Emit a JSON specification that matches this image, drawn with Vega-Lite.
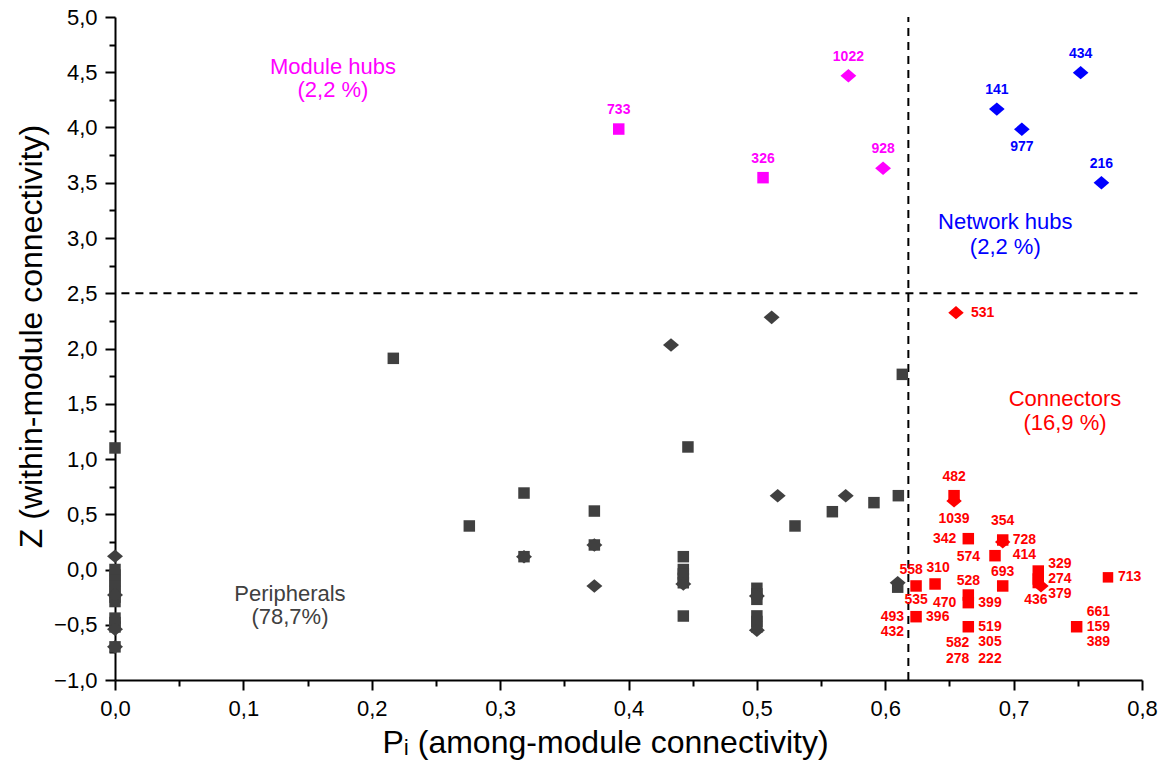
{
  "$schema": "https://vega.github.io/schema/vega-lite/v6.json",
  "width": 1027,
  "height": 663,
  "autosize": {"type": "none"},
  "padding": {"left": 115, "top": 17, "right": 18, "bottom": 84},
  "background": "white",
  "config": {
    "view": {"stroke": null},
    "font": "Liberation Sans",
    "axis": {"grid": false, "domainColor": "black", "domainWidth": 2, "tickColor": "black", "tickWidth": 2, "labelFont": "Liberation Sans", "labelColor": "black", "titleFont": "Liberation Sans", "titleFontWeight": "normal", "titleColor": "black", "labelFlush": false}
  },
  "resolve": {"scale": {"size": "independent"}},
  "datasets": {
    "points": [
      {"p": 0, "z": 1.1, "role": "Peripheral", "shape": "square"},
      {"p": 0, "z": 0.0, "role": "Peripheral", "shape": "square"},
      {"p": 0, "z": -0.05, "role": "Peripheral", "shape": "square"},
      {"p": 0, "z": -0.1, "role": "Peripheral", "shape": "square"},
      {"p": 0, "z": -0.15, "role": "Peripheral", "shape": "square"},
      {"p": 0, "z": -0.2, "role": "Peripheral", "shape": "square"},
      {"p": 0, "z": -0.25, "role": "Peripheral", "shape": "square"},
      {"p": 0, "z": -0.29, "role": "Peripheral", "shape": "square"},
      {"p": 0, "z": -0.44, "role": "Peripheral", "shape": "square"},
      {"p": 0, "z": -0.48, "role": "Peripheral", "shape": "square"},
      {"p": 0, "z": -0.52, "role": "Peripheral", "shape": "square"},
      {"p": 0, "z": -0.7, "role": "Peripheral", "shape": "square"},
      {"p": 0.2168, "z": 1.911, "role": "Peripheral", "shape": "square"},
      {"p": 0.276, "z": 0.394, "role": "Peripheral", "shape": "square"},
      {"p": 0.3186, "z": 0.692, "role": "Peripheral", "shape": "square"},
      {"p": 0.3186, "z": 0.116, "role": "Peripheral", "shape": "square"},
      {"p": 0.3734, "z": 0.529, "role": "Peripheral", "shape": "square"},
      {"p": 0.3734, "z": 0.222, "role": "Peripheral", "shape": "square"},
      {"p": 0.4427, "z": 0.116, "role": "Peripheral", "shape": "square"},
      {"p": 0.4427, "z": 0.0, "role": "Peripheral", "shape": "square"},
      {"p": 0.4427, "z": -0.04, "role": "Peripheral", "shape": "square"},
      {"p": 0.4427, "z": -0.08, "role": "Peripheral", "shape": "square"},
      {"p": 0.4427, "z": -0.12, "role": "Peripheral", "shape": "square"},
      {"p": 0.4427, "z": -0.421, "role": "Peripheral", "shape": "square"},
      {"p": 0.4463, "z": 1.109, "role": "Peripheral", "shape": "square"},
      {"p": 0.5, "z": -0.17, "role": "Peripheral", "shape": "square"},
      {"p": 0.5, "z": -0.22, "role": "Peripheral", "shape": "square"},
      {"p": 0.5, "z": -0.27, "role": "Peripheral", "shape": "square"},
      {"p": 0.5, "z": -0.42, "role": "Peripheral", "shape": "square"},
      {"p": 0.5, "z": -0.47, "role": "Peripheral", "shape": "square"},
      {"p": 0.5, "z": -0.52, "role": "Peripheral", "shape": "square"},
      {"p": 0.5297, "z": 0.394, "role": "Peripheral", "shape": "square"},
      {"p": 0.5588, "z": 0.523, "role": "Peripheral", "shape": "square"},
      {"p": 0.5912, "z": 0.605, "role": "Peripheral", "shape": "square"},
      {"p": 0.6102, "z": 0.668, "role": "Peripheral", "shape": "square"},
      {"p": 0.6133, "z": 1.766, "role": "Peripheral", "shape": "square"},
      {"p": 0.6097, "z": -0.16, "role": "Peripheral", "shape": "square"},
      {"p": 0, "z": 0.12, "role": "Peripheral", "shape": "diamond"},
      {"p": 0, "z": -0.23, "role": "Peripheral", "shape": "diamond"},
      {"p": 0, "z": -0.54, "role": "Peripheral", "shape": "diamond"},
      {"p": 0, "z": -0.7, "role": "Peripheral", "shape": "diamond"},
      {"p": 0.3186, "z": 0.116, "role": "Peripheral", "shape": "diamond"},
      {"p": 0.3734, "z": 0.222, "role": "Peripheral", "shape": "diamond"},
      {"p": 0.3734, "z": -0.149, "role": "Peripheral", "shape": "diamond"},
      {"p": 0.4331, "z": 2.032, "role": "Peripheral", "shape": "diamond"},
      {"p": 0.4427, "z": -0.131, "role": "Peripheral", "shape": "diamond"},
      {"p": 0.5, "z": -0.24, "role": "Peripheral", "shape": "diamond"},
      {"p": 0.5, "z": -0.55, "role": "Peripheral", "shape": "diamond"},
      {"p": 0.5115, "z": 2.282, "role": "Peripheral", "shape": "diamond"},
      {"p": 0.5162, "z": 0.668, "role": "Peripheral", "shape": "diamond"},
      {"p": 0.5692, "z": 0.668, "role": "Peripheral", "shape": "diamond"},
      {"p": 0.6097, "z": -0.12, "role": "Peripheral", "shape": "diamond"},
      {"p": 0.3924, "z": 3.986, "role": "Module hub", "shape": "square"},
      {"p": 0.5048, "z": 3.546, "role": "Module hub", "shape": "square"},
      {"p": 0.5713, "z": 4.469, "role": "Module hub", "shape": "diamond"},
      {"p": 0.5983, "z": 3.631, "role": "Module hub", "shape": "diamond"},
      {"p": 0.6869, "z": 4.167, "role": "Network hub", "shape": "diamond"},
      {"p": 0.7064, "z": 3.984, "role": "Network hub", "shape": "diamond"},
      {"p": 0.7522, "z": 4.496, "role": "Network hub", "shape": "diamond"},
      {"p": 0.7684, "z": 3.5, "role": "Network hub", "shape": "diamond"},
      {"p": 0.6551, "z": 2.324, "role": "Connector", "shape": "diamond"},
      {"p": 0.6536, "z": 0.668, "role": "Connector", "shape": "square"},
      {"p": 0.6536, "z": 0.62, "role": "Connector", "shape": "diamond"},
      {"p": 0.6647, "z": 0.279, "role": "Connector", "shape": "square"},
      {"p": 0.6915, "z": 0.267, "role": "Connector", "shape": "square"},
      {"p": 0.6915, "z": 0.249, "role": "Connector", "shape": "diamond"},
      {"p": 0.6855, "z": 0.125, "role": "Connector", "shape": "square"},
      {"p": 0.6915, "z": -0.149, "role": "Connector", "shape": "square"},
      {"p": 0.7192, "z": -0.014, "role": "Connector", "shape": "square"},
      {"p": 0.7192, "z": -0.086, "role": "Connector", "shape": "square"},
      {"p": 0.7192, "z": -0.118, "role": "Connector", "shape": "square"},
      {"p": 0.7213, "z": -0.149, "role": "Connector", "shape": "diamond"},
      {"p": 0.7735, "z": -0.071, "role": "Connector", "shape": "small"},
      {"p": 0.624, "z": -0.149, "role": "Connector", "shape": "square"},
      {"p": 0.6388, "z": -0.131, "role": "Connector", "shape": "square"},
      {"p": 0.6647, "z": -0.231, "role": "Connector", "shape": "square"},
      {"p": 0.6647, "z": -0.3, "role": "Connector", "shape": "square"},
      {"p": 0.624, "z": -0.427, "role": "Connector", "shape": "square"},
      {"p": 0.6647, "z": -0.518, "role": "Connector", "shape": "square"},
      {"p": 0.7491, "z": -0.518, "role": "Connector", "shape": "square"}
    ],
    "labels": [
      {"p": 0.3924, "z": 3.986, "id": "733", "role": "Module hub", "side": "T"},
      {"p": 0.5048, "z": 3.546, "id": "326", "role": "Module hub", "side": "T"},
      {"p": 0.5713, "z": 4.469, "id": "1022", "role": "Module hub", "side": "T"},
      {"p": 0.5983, "z": 3.631, "id": "928", "role": "Module hub", "side": "T"},
      {"p": 0.6869, "z": 4.167, "id": "141", "role": "Network hub", "side": "T"},
      {"p": 0.7522, "z": 4.496, "id": "434", "role": "Network hub", "side": "T"},
      {"p": 0.7684, "z": 3.5, "id": "216", "role": "Network hub", "side": "T"},
      {"p": 0.7064, "z": 3.984, "id": "977", "role": "Network hub", "side": "B"},
      {"p": 0.6551, "z": 2.324, "id": "531", "role": "Connector", "side": "RR"},
      {"p": 0.6536, "z": 0.668, "id": "482", "role": "Connector", "side": "T"},
      {"p": 0.6536, "z": 0.62, "id": "1039", "role": "Connector", "side": "B"},
      {"p": 0.6647, "z": 0.279, "id": "342", "role": "Connector", "side": "L"},
      {"p": 0.6647, "z": 0.279, "id": "574", "role": "Connector", "side": "B"},
      {"p": 0.6915, "z": 0.267, "id": "354", "role": "Connector", "side": "T"},
      {"p": 0.6915, "z": 0.267, "id": "728", "role": "Connector", "side": "R"},
      {"p": 0.6915, "z": 0.267, "id": "414", "role": "Connector", "side": "RB"},
      {"p": 0.6915, "z": -0.149, "id": "693", "role": "Connector", "side": "A"},
      {"p": 0.7192, "z": -0.086, "id": "329", "role": "Connector", "side": "RA"},
      {"p": 0.7192, "z": -0.086, "id": "274", "role": "Connector", "side": "R"},
      {"p": 0.7192, "z": -0.086, "id": "379", "role": "Connector", "side": "RB"},
      {"p": 0.7213, "z": -0.149, "id": "436", "role": "Connector", "side": "UL"},
      {"p": 0.7735, "z": -0.071, "id": "713", "role": "Connector", "side": "R"},
      {"p": 0.624, "z": -0.149, "id": "558", "role": "Connector", "side": "AL"},
      {"p": 0.624, "z": -0.149, "id": "535", "role": "Connector", "side": "U"},
      {"p": 0.6388, "z": -0.131, "id": "310", "role": "Connector", "side": "AR"},
      {"p": 0.6647, "z": -0.231, "id": "528", "role": "Connector", "side": "A"},
      {"p": 0.6647, "z": -0.3, "id": "470", "role": "Connector", "side": "L"},
      {"p": 0.6647, "z": -0.3, "id": "399", "role": "Connector", "side": "R"},
      {"p": 0.624, "z": -0.427, "id": "493", "role": "Connector", "side": "L"},
      {"p": 0.624, "z": -0.427, "id": "432", "role": "Connector", "side": "LB"},
      {"p": 0.624, "z": -0.427, "id": "396", "role": "Connector", "side": "R"},
      {"p": 0.6647, "z": -0.518, "id": "519", "role": "Connector", "side": "R"},
      {"p": 0.6647, "z": -0.518, "id": "582", "role": "Connector", "side": "BL"},
      {"p": 0.6647, "z": -0.518, "id": "278", "role": "Connector", "side": "BL2"},
      {"p": 0.6647, "z": -0.518, "id": "305", "role": "Connector", "side": "RB"},
      {"p": 0.6647, "z": -0.518, "id": "222", "role": "Connector", "side": "RB2"},
      {"p": 0.7491, "z": -0.518, "id": "661", "role": "Connector", "side": "RA"},
      {"p": 0.7491, "z": -0.518, "id": "159", "role": "Connector", "side": "R"},
      {"p": 0.7491, "z": -0.518, "id": "389", "role": "Connector", "side": "RB"}
    ],
    "notes": [
      {"p": 0.1698, "z": 4.55, "t": "Module hubs", "role": "Module hub"},
      {"p": 0.1698, "z": 4.34, "t": "(2,2 %)", "role": "Module hub"},
      {"p": 0.6935, "z": 3.145, "t": "Network hubs", "role": "Network hub"},
      {"p": 0.6935, "z": 2.919, "t": "(2,2 %)", "role": "Network hub"},
      {"p": 0.74, "z": 1.543, "t": "Connectors", "role": "Connector"},
      {"p": 0.74, "z": 1.326, "t": "(16,9 %)", "role": "Connector"},
      {"p": 0.1363, "z": -0.222, "t": "Peripherals", "role": "Peripheral"},
      {"p": 0.1363, "z": -0.43, "t": "(78,7%)", "role": "Peripheral"}
    ]
  },
  "encoding": {
    "x": {"field": "p", "type": "quantitative", "scale": {"domain": [0, 0.8], "nice": false, "zero": false},
      "axis": {"title": "Pᵢ (among-module connectivity)", "titleFontSize": 32, "titlePadding": 8, "titleX": 490, "labelFontSize": 22, "labelPadding": 8,
        "values": [0, 0.05, 0.1, 0.15, 0.2, 0.25, 0.3, 0.35, 0.4, 0.45, 0.5, 0.55, 0.6, 0.65, 0.7, 0.75, 0.8],
        "labelExpr": "abs(datum.value*10 - round(datum.value*10)) < 0.001 ? replace(format(datum.value, '.1f'), '.', ',') : ''",
        "tickSize": {"condition": {"test": "abs(datum.value*10 - round(datum.value*10)) < 0.001", "value": 10}, "value": 6}}},
    "y": {"field": "z", "type": "quantitative", "scale": {"domain": [-1, 5], "nice": false, "zero": false},
      "axis": {"title": "Z (within-module connectivity)", "titleFontSize": 32, "titlePadding": 5, "titleY": 319, "labelFontSize": 22, "labelPadding": 8,
        "values": [-1, -0.75, -0.5, -0.25, 0, 0.25, 0.5, 0.75, 1, 1.25, 1.5, 1.75, 2, 2.25, 2.5, 2.75, 3, 3.25, 3.5, 3.75, 4, 4.25, 4.5, 4.75, 5],
        "labelExpr": "abs(datum.value*2 - round(datum.value*2)) < 0.001 ? replace(format(datum.value, '.1f'), '.', ',') : ''",
        "tickSize": {"condition": {"test": "abs(datum.value*2 - round(datum.value*2)) < 0.001", "value": 10}, "value": 6}}}
  },
  "layer": [
    {
      "data": {"values": [{"p": 0.005, "p2": 0.8, "z": 2.5}]},
      "mark": {"type": "rule", "color": "black", "strokeWidth": 2, "strokeDash": [8, 6]},
      "encoding": {"x2": {"field": "p2"}}
    },
    {
      "data": {"values": [{"p": 0.618, "z": -1, "z2": 5}]},
      "mark": {"type": "rule", "color": "black", "strokeWidth": 2, "strokeDash": [8, 6]},
      "encoding": {"y2": {"field": "z2"}}
    },
    {
      "data": {"name": "points"},
      "transform": [{"filter": "datum.shape === 'square'"}],
      "mark": {"type": "point", "shape": "square", "filled": true, "opacity": 1},
      "encoding": {
        "color": {"field": "role", "type": "nominal", "legend": null, "scale": {"domain": ["Peripheral", "Module hub", "Network hub", "Connector"], "range": ["#404040", "#ff00ff", "#0000ff", "#ff0000"]}},
        "size": {"field": "role", "type": "nominal", "legend": null, "scale": {"domain": ["Peripheral", "Module hub", "Network hub", "Connector"], "range": [132, 132, 132, 225]}}
      }
    },
    {
      "data": {"name": "points"},
      "transform": [{"filter": "datum.shape === 'small'"}],
      "mark": {"type": "point", "shape": "square", "filled": true, "opacity": 1, "size": 110},
      "encoding": {
        "color": {"field": "role", "type": "nominal", "legend": null}
      }
    },
    {
      "data": {"name": "points"},
      "transform": [{"filter": "datum.shape === 'diamond'"}],
      "mark": {"type": "point", "shape": "M-1,0L0,-0.85L1,0L0,0.85Z", "filled": true, "opacity": 1},
      "encoding": {
        "color": {"field": "role", "type": "nominal", "legend": null},
        "size": {"field": "role", "type": "nominal", "legend": null, "scale": {"domain": ["Peripheral", "Module hub", "Network hub", "Connector"], "range": [256, 240, 256, 196]}}
      }
    },
    {
      "data": {"name": "notes"},
      "mark": {"type": "text", "fontSize": 22, "font": "Liberation Sans", "align": "center", "baseline": "middle"},
      "encoding": {"text": {"field": "t"}, "color": {"field": "role", "type": "nominal", "legend": null}}
    },
    {"data": {"name": "labels"}, "transform": [{"filter": "datum.side === 'T'"}], "mark": {"type": "text", "fontSize": 14, "fontWeight": "bold", "align": "center", "baseline": "middle", "dy": -19}, "encoding": {"text": {"field": "id"}, "color": {"field": "role", "type": "nominal", "legend": null}}},
    {"data": {"name": "labels"}, "transform": [{"filter": "datum.side === 'B'"}], "mark": {"type": "text", "fontSize": 14, "fontWeight": "bold", "align": "center", "baseline": "middle", "dy": 18}, "encoding": {"text": {"field": "id"}, "color": {"field": "role", "type": "nominal", "legend": null}}},
    {"data": {"name": "labels"}, "transform": [{"filter": "datum.side === 'A'"}], "mark": {"type": "text", "fontSize": 14, "fontWeight": "bold", "align": "center", "baseline": "middle", "dy": -14}, "encoding": {"text": {"field": "id"}, "color": {"field": "role", "type": "nominal", "legend": null}}},
    {"data": {"name": "labels"}, "transform": [{"filter": "datum.side === 'AL'"}], "mark": {"type": "text", "fontSize": 14, "fontWeight": "bold", "align": "center", "baseline": "middle", "dx": -5, "dy": -16}, "encoding": {"text": {"field": "id"}, "color": {"field": "role", "type": "nominal", "legend": null}}},
    {"data": {"name": "labels"}, "transform": [{"filter": "datum.side === 'AR'"}], "mark": {"type": "text", "fontSize": 14, "fontWeight": "bold", "align": "center", "baseline": "middle", "dx": 3, "dy": -16}, "encoding": {"text": {"field": "id"}, "color": {"field": "role", "type": "nominal", "legend": null}}},
    {"data": {"name": "labels"}, "transform": [{"filter": "datum.side === 'U'"}], "mark": {"type": "text", "fontSize": 14, "fontWeight": "bold", "align": "center", "baseline": "middle", "dy": 14}, "encoding": {"text": {"field": "id"}, "color": {"field": "role", "type": "nominal", "legend": null}}},
    {"data": {"name": "labels"}, "transform": [{"filter": "datum.side === 'UL'"}], "mark": {"type": "text", "fontSize": 14, "fontWeight": "bold", "align": "center", "baseline": "middle", "dx": -5, "dy": 14}, "encoding": {"text": {"field": "id"}, "color": {"field": "role", "type": "nominal", "legend": null}}},
    {"data": {"name": "labels"}, "transform": [{"filter": "datum.side === 'R'"}], "mark": {"type": "text", "fontSize": 14, "fontWeight": "bold", "align": "left", "baseline": "middle", "dx": 10}, "encoding": {"text": {"field": "id"}, "color": {"field": "role", "type": "nominal", "legend": null}}},
    {"data": {"name": "labels"}, "transform": [{"filter": "datum.side === 'RR'"}], "mark": {"type": "text", "fontSize": 14, "fontWeight": "bold", "align": "left", "baseline": "middle", "dx": 15}, "encoding": {"text": {"field": "id"}, "color": {"field": "role", "type": "nominal", "legend": null}}},
    {"data": {"name": "labels"}, "transform": [{"filter": "datum.side === 'L'"}], "mark": {"type": "text", "fontSize": 14, "fontWeight": "bold", "align": "right", "baseline": "middle", "dx": -12}, "encoding": {"text": {"field": "id"}, "color": {"field": "role", "type": "nominal", "legend": null}}},
    {"data": {"name": "labels"}, "transform": [{"filter": "datum.side === 'RA'"}], "mark": {"type": "text", "fontSize": 14, "fontWeight": "bold", "align": "left", "baseline": "middle", "dx": 10, "dy": -15}, "encoding": {"text": {"field": "id"}, "color": {"field": "role", "type": "nominal", "legend": null}}},
    {"data": {"name": "labels"}, "transform": [{"filter": "datum.side === 'RB'"}], "mark": {"type": "text", "fontSize": 14, "fontWeight": "bold", "align": "left", "baseline": "middle", "dx": 10, "dy": 15}, "encoding": {"text": {"field": "id"}, "color": {"field": "role", "type": "nominal", "legend": null}}},
    {"data": {"name": "labels"}, "transform": [{"filter": "datum.side === 'RB2'"}], "mark": {"type": "text", "fontSize": 14, "fontWeight": "bold", "align": "left", "baseline": "middle", "dx": 10, "dy": 32}, "encoding": {"text": {"field": "id"}, "color": {"field": "role", "type": "nominal", "legend": null}}},
    {"data": {"name": "labels"}, "transform": [{"filter": "datum.side === 'LB'"}], "mark": {"type": "text", "fontSize": 14, "fontWeight": "bold", "align": "right", "baseline": "middle", "dx": -12, "dy": 15}, "encoding": {"text": {"field": "id"}, "color": {"field": "role", "type": "nominal", "legend": null}}},
    {"data": {"name": "labels"}, "transform": [{"filter": "datum.side === 'BL'"}], "mark": {"type": "text", "fontSize": 14, "fontWeight": "bold", "align": "right", "baseline": "middle", "dx": 1, "dy": 16}, "encoding": {"text": {"field": "id"}, "color": {"field": "role", "type": "nominal", "legend": null}}},
    {"data": {"name": "labels"}, "transform": [{"filter": "datum.side === 'BL2'"}], "mark": {"type": "text", "fontSize": 14, "fontWeight": "bold", "align": "right", "baseline": "middle", "dx": 1, "dy": 32}, "encoding": {"text": {"field": "id"}, "color": {"field": "role", "type": "nominal", "legend": null}}}
  ]
}
